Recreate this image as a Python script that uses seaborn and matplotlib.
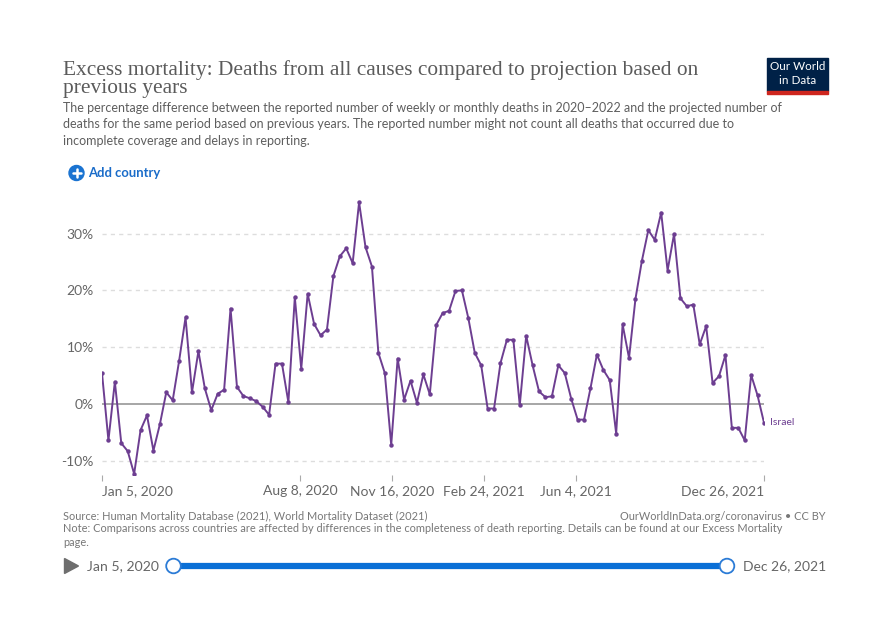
import matplotlib
matplotlib.use("Agg")
import matplotlib.pyplot as plt
from matplotlib.patches import Rectangle, Circle, Polygon
import pandas as pd
import seaborn as sns

# weekly excess mortality, Israel (percent)
start_date = "2020-01-05"
excess_pct = [
    5.45, -6.4, 3.9, -6.9, -8.3, -12.3, -4.6, -2.0, -8.2, -3.6,
    2.05, 0.65, 7.6, 15.25, 2.05, 9.3, 2.75, -1.1, 1.8, 2.5,
    16.8, 3.0, 1.4, 1.0, 0.5, -0.5, -1.9, 7.1, 7.1, 0.3,
    18.8, 6.2, 19.4, 14.1, 12.1, 13.1, 22.5, 26.0, 27.4, 24.8,
    35.5, 27.6, 24.2, 9.0, 5.45, -7.2, 8.0, 0.75, 4.1, 0.2,
    5.2, 1.7, 13.9, 16.0, 16.4, 19.9, 20.0, 15.1, 9.0, 6.8,
    -0.8, -0.8, 7.2, 11.3, 11.3, -0.2, 12.0, 6.8, 2.2, 1.2,
    1.35, 6.8, 5.45, 0.95, -2.75, -2.75, 2.75, 8.7, 6.0, 4.2,
    -5.2, 14.0, 8.1, 18.5, 25.2, 30.6, 28.9, 33.7, 23.5, 29.9,
    18.6, 17.2, 17.5, 10.5, 13.7, 3.7, 4.9, 8.6, -4.2, -4.2,
    -6.4, 5.1, 1.5, -3.3,
]
country = "Israel"
y_ticks = [-10, 0, 10, 20, 30]
x_tick_dates = ["2020-01-05", "2020-08-08", "2020-11-16", "2021-02-24", "2021-06-04", "2021-12-26"]
x_tick_labels = ["Jan 5, 2020", "Aug 8, 2020", "Nov 16, 2020", "Feb 24, 2021", "Jun 4, 2021", "Dec 26, 2021"]

df = pd.DataFrame({
    "date": pd.date_range(start_date, periods=len(excess_pct), freq="W-SUN"),
    "excess": excess_pct,
})

sns.set_theme(style="white")
plt.rcParams["font.family"] = ["Lato", "DejaVu Sans"]

W, H = 885, 627
fig = plt.figure(figsize=(W / 100, H / 100), dpi=100)
fig.patch.set_facecolor("white")

purple = "#6d3e91"
grey_txt = "#666666"

# main axes, placed in pixel terms
left, right, top, bottom = 102, 764, 199.5, 475
ax = fig.add_axes([left / W, 1 - bottom / H, (right - left) / W, (bottom - top) / H])

sns.lineplot(data=df, x="date", y="excess", ax=ax, color=purple, lw=1.4,
             marker="o", markersize=3.2, markeredgewidth=0, zorder=3)

ax.set_xlim(df["date"].iloc[0], df["date"].iloc[-1])
ax.set_ylim(-12.5, 36)
ax.set_yticks(y_ticks)
ax.set_yticklabels([f"{t}%" for t in y_ticks])
for t in y_ticks:
    if t == 0:
        ax.axhline(0, color="#8e8e8e", lw=1.1, zorder=2)
    else:
        ax.axhline(t, color="#dddddd", lw=1, ls=(0, (3, 3)), zorder=1)

ax.set_xticks(pd.to_datetime(x_tick_dates))
ax.set_xticklabels(x_tick_labels)
xl = ax.get_xticklabels()
xl[0].set_ha("left")
xl[-1].set_ha("right")

for s in ax.spines.values():
    s.set_visible(False)
ax.tick_params(axis="y", length=0, pad=6, labelsize=10, labelcolor=grey_txt)
ax.tick_params(axis="x", length=4, width=0.8, color="#aaaaaa", direction="out",
               pad=3, labelsize=10, labelcolor=grey_txt, bottom=True)
ax.set_xlabel("")
ax.set_ylabel("")
ax.set_facecolor("none")

ax.annotate(country, xy=(df["date"].iloc[-1], excess_pct[-1]), xytext=(4, 0),
            textcoords="offset points", va="center", ha="left",
            color=purple, fontsize=7.5, annotation_clip=False)

# overlay in pixel coordinates for header, footer and controls
ov = fig.add_axes([0, 0, 1, 1], zorder=-1)
ov.set_xlim(0, W)
ov.set_ylim(H, 0)
ov.axis("off")

serif = ["Liberation Serif", "DejaVu Serif"]
ov.text(63, 70, "Excess mortality: Deaths from all causes compared to projection based on",
        family=serif, fontsize=15.4, color="#5b5b5b", va="center")
ov.text(63, 88, "previous years", family=serif, fontsize=15.4, color="#5b5b5b", va="center")

subtitle = [
    "The percentage difference between the reported number of weekly or monthly deaths in 2020\u20132022 and the projected number of",
    "deaths for the same period based on previous years. The reported number might not count all deaths that occurred due to",
    "incomplete coverage and delays in reporting.",
]
for i, line in enumerate(subtitle):
    ov.text(63, 108 + i * 16.5, line, fontsize=9.0, color="#5e5e5e", va="center")

# logo
ov.add_patch(Rectangle((767, 57.5), 61, 33, color="#002147"))
ov.add_patch(Rectangle((767, 90.5), 61, 3, color="#ce261e"))
ov.text(797.5, 67, "Our World", color="white", fontsize=8.4, ha="center", va="center")
ov.text(797.5, 80, "in Data", color="white", fontsize=8.4, ha="center", va="center")

# add country button
ov.add_patch(Circle((76.5, 173), 7.5, color="#1a73d1"))
ov.plot([72.5, 80.5], [173, 173], color="white", lw=1.8)
ov.plot([76.5, 76.5], [169, 177], color="white", lw=1.8)
ov.text(88, 173, "Add country", color="#1a6cc9", fontsize=9.4, fontweight="bold", va="center")

# footer
foot = dict(fontsize=7.95, color="#777777", va="center")
ov.text(63, 516, "Source: Human Mortality Database (2021), World Mortality Dataset (2021)", **foot)
ov.text(826, 516, "OurWorldInData.org/coronavirus \u2022 CC BY", ha="right", **foot)
ov.text(63, 529, "Note: Comparisons across countries are affected by differences in the completeness of death reporting. "
        "Details can be found at our Excess Mortality", **foot)
ov.text(63, 542, "page.", **foot)

# timeline slider
ov.add_patch(Polygon([[64.5, 558.5], [64.5, 573.5], [78.5, 566]], closed=True, color="#6e6e6e"))
ov.text(87, 566, "Jan 5, 2020", fontsize=10.1, color=grey_txt, va="center")
ov.text(743, 566, "Dec 26, 2021", fontsize=10.0, color=grey_txt, va="center")
ov.plot([173, 727], [566, 566], color="#0a6fd6", lw=4.5, solid_capstyle="butt")
for cx in (173.5, 727):
    ov.add_patch(Circle((cx, 566), 7.3, facecolor="white", edgecolor="#2b7bd6", lw=1.3, zorder=5))

fig.savefig("out.png", dpi=100, facecolor="white")
